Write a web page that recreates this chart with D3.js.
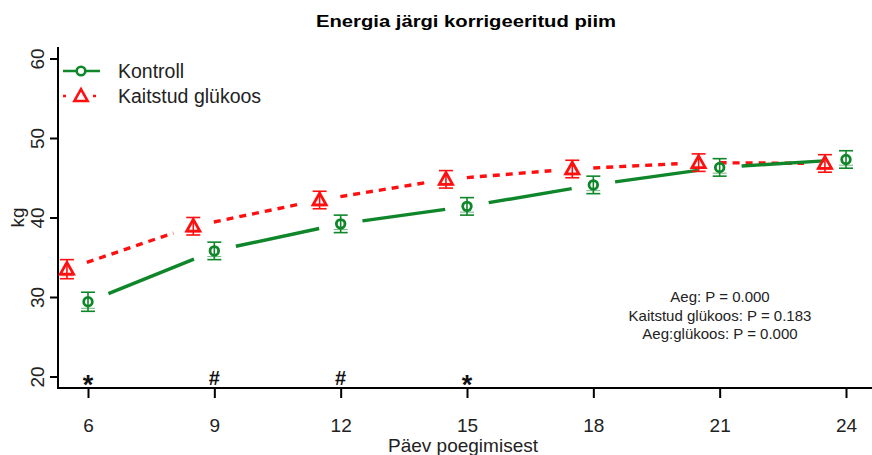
<!DOCTYPE html>
<html><head><meta charset="utf-8">
<script src="https://cdn.jsdelivr.net/npm/d3@7"></script>
<style>body{margin:0;background:#fff}svg{display:block;font-family:"Liberation Sans",Arial,sans-serif}</style>
</head><body>
<script>
const days = [6, 9, 12, 15, 18, 21, 24];
const kontroll = [29.4, 35.8, 39.2, 41.4, 44.1, 46.3, 47.3];
const kontrollSE = [1.2, 1.1, 1.1, 1.1, 1.1, 1.1, 1.1];
const glukoos = [33.5, 38.9, 42.2, 44.8, 46.1, 46.9, 46.8];
const glukoosSE = [1.2, 1.1, 1.1, 1.1, 1.1, 1.1, 1.1];
const xTicks = [6, 9, 12, 15, 18, 21, 24];
const yTicks = [20, 30, 40, 50, 60];
const sigMarks = [{day: 6, mark: "*"}, {day: 9, mark: "#"}, {day: 12, mark: "#"}, {day: 15, mark: "*"}];
const pTexts = ["Aeg: P = 0.000", "Kaitstud glükoos: P = 0.183", "Aeg:glükoos: P = 0.000"];
const seriesNames = ["Kontroll", "Kaitstud glükoos"];
const offsetGluk = -0.5;

const W = 872, H = 455;
const green = "#0f862a", red = "#ff1010";
const svg = d3.select("body").append("svg").attr("width", W).attr("height", H);
const x = d3.scaleLinear().domain([6, 24]).range([88, 846]);
const y = d3.scaleLinear().domain([20, 60]).range([376.5, 58.5]);
const axX = 58, axY = 388;

// title
svg.append("text").attr("x", 466).attr("y", 27).attr("text-anchor", "middle")
  .attr("font-size", 17).attr("font-weight", "bold").attr("textLength", 300).attr("lengthAdjust", "spacingAndGlyphs")
  .text("Energia järgi korrigeeritud piim");

// axes
const gx = svg.append("g").attr("transform", `translate(0,${axY})`)
  .call(d3.axisBottom(x).tickValues(xTicks).tickSize(10).tickPadding(21).tickSizeOuter(0));
gx.select(".domain").remove();
gx.append("line").attr("x1", axX).attr("x2", W).attr("stroke", "#000").attr("stroke-width", 2);
gx.selectAll(".tick line").attr("stroke-width", 2);
gx.selectAll(".tick text").attr("font-size", 19).attr("fill", "#222").attr("font-family", "Liberation Sans, Arial");

const gy = svg.append("g").attr("transform", `translate(${axX},0)`)
  .call(d3.axisLeft(y).tickValues(yTicks).tickSize(8).tickSizeOuter(0));
gy.select(".domain").remove();
gy.append("line").attr("y1", 47).attr("y2", axY + 1).attr("stroke", "#000").attr("stroke-width", 2);
gy.selectAll(".tick line").attr("stroke-width", 2);
gy.selectAll(".tick text").attr("font-size", 19).attr("fill", "#222").attr("font-family", "Liberation Sans, Arial")
  .attr("x", 0).attr("dy", 0).attr("text-anchor", "middle")
  .attr("transform", "translate(-21,0) rotate(-90) translate(0,7)");

svg.append("text").attr("transform", `translate(24,${y(40)}) rotate(-90)`).attr("text-anchor", "middle")
  .attr("font-size", 19).attr("fill", "#222").text("kg");
svg.append("text").attr("x", 463).attr("y", 452).attr("text-anchor", "middle")
  .attr("font-size", 19).attr("fill", "#222").text("Päev poegimisest");

// connecting segments with gaps (type "b")
function gapSegments(pts, gap) {
  const segs = [];
  for (let i = 0; i < pts.length - 1; i++) {
    const [x1, y1] = pts[i], [x2, y2] = pts[i + 1];
    const dx = x2 - x1, dy = y2 - y1, L = Math.hypot(dx, dy);
    const ux = dx / L, uy = dy / L;
    segs.push([x1 + ux * gap, y1 + uy * gap, x2 - ux * gap, y2 - uy * gap]);
  }
  return segs;
}
const gPts = days.map((d, i) => [x(d), y(kontroll[i])]);
const rPts = days.map((d, i) => [x(d + offsetGluk), y(glukoos[i])]);

svg.append("g").selectAll("line").data(gapSegments(rPts, 21)).join("line")
  .attr("x1", d => d[0]).attr("y1", d => d[1]).attr("x2", d => d[2]).attr("y2", d => d[3])
  .attr("stroke", red).attr("stroke-width", 3.4).attr("stroke-dasharray", "7,6");
svg.append("g").selectAll("line").data(gapSegments(gPts, 22)).join("line")
  .attr("x1", d => d[0]).attr("y1", d => d[1]).attr("x2", d => d[2]).attr("y2", d => d[3])
  .attr("stroke", green).attr("stroke-width", 3.4);

// error bars
function errbars(g, xs, vals, se, col) {
  const cw = 7;
  vals.forEach((v, i) => {
    const cx = xs[i], t = y(v + se[i]), b = y(v - se[i]);
    g.append("line").attr("x1", cx).attr("x2", cx).attr("y1", t).attr("y2", b).attr("stroke", col).attr("stroke-width", 1.6);
    g.append("line").attr("x1", cx - cw).attr("x2", cx + cw).attr("y1", t).attr("y2", t).attr("stroke", col).attr("stroke-width", 1.6);
    g.append("line").attr("x1", cx - cw).attr("x2", cx + cw).attr("y1", b).attr("y2", b).attr("stroke", col).attr("stroke-width", 1.6);
    g.append("line").attr("x1", cx - cw).attr("x2", cx + cw).attr("y1", b - 3).attr("y2", b - 3).attr("stroke", col).attr("stroke-width", 1).attr("opacity", 0.6);
  });
}
const eg = svg.append("g");
errbars(eg, days.map(d => x(d + offsetGluk)), glukoos, glukoosSE, red);
errbars(eg, days.map(d => x(d)), kontroll, kontrollSE, green);

const tri = (cx, cy, s) => `M${cx},${cy - s * 0.62} L${cx + s * 0.6},${cy + s * 0.45} L${cx - s * 0.6},${cy + s * 0.45} Z`;
svg.append("g").selectAll("path").data(rPts).join("path")
  .attr("d", d => tri(d[0], d[1], 11)).attr("fill", "none").attr("stroke", red).attr("stroke-width", 2.8);
svg.append("g").selectAll("circle").data(gPts).join("circle")
  .attr("cx", d => d[0]).attr("cy", d => d[1]).attr("r", 4.3).attr("fill", "none").attr("stroke", green).attr("stroke-width", 2.8);

// significance marks
svg.append("g").selectAll("text").data(sigMarks).join("text")
  .attr("x", d => x(d.day)).attr("y", d => d.mark === "*" ? 394 : 385).attr("text-anchor", "middle")
  .attr("font-weight", "bold")
  .attr("font-size", d => d.mark === "*" ? 27 : 20).attr("fill", "#111").text(d => d.mark);

// p-value annotation
svg.append("g").selectAll("text").data(pTexts).join("text")
  .attr("x", 720).attr("y", (d, i) => 302 + i * 18.5).attr("text-anchor", "middle")
  .attr("font-size", 15).attr("fill", "#222").text(d => d);

// legend
const lg = svg.append("g");
lg.append("line").attr("x1", 63).attr("x2", 100).attr("y1", 71).attr("y2", 71).attr("stroke", green).attr("stroke-width", 2.6);
lg.append("circle").attr("cx", 81).attr("cy", 71).attr("r", 4.3).attr("fill", "#fff").attr("stroke", green).attr("stroke-width", 2.6);
lg.append("line").attr("x1", 63).attr("x2", 100).attr("y1", 96).attr("y2", 96).attr("stroke", red).attr("stroke-width", 2.6).attr("stroke-dasharray", "3,27");
lg.append("path").attr("d", tri(81, 96, 11)).attr("fill", "#fff").attr("stroke", red).attr("stroke-width", 2.6);
lg.selectAll("text.l").data(seriesNames).join("text").attr("class", "l")
  .attr("x", 118).attr("y", (d, i) => 78 + i * 25).attr("font-size", 19.5).attr("fill", "#222").text(d => d);
</script>
</body></html>
